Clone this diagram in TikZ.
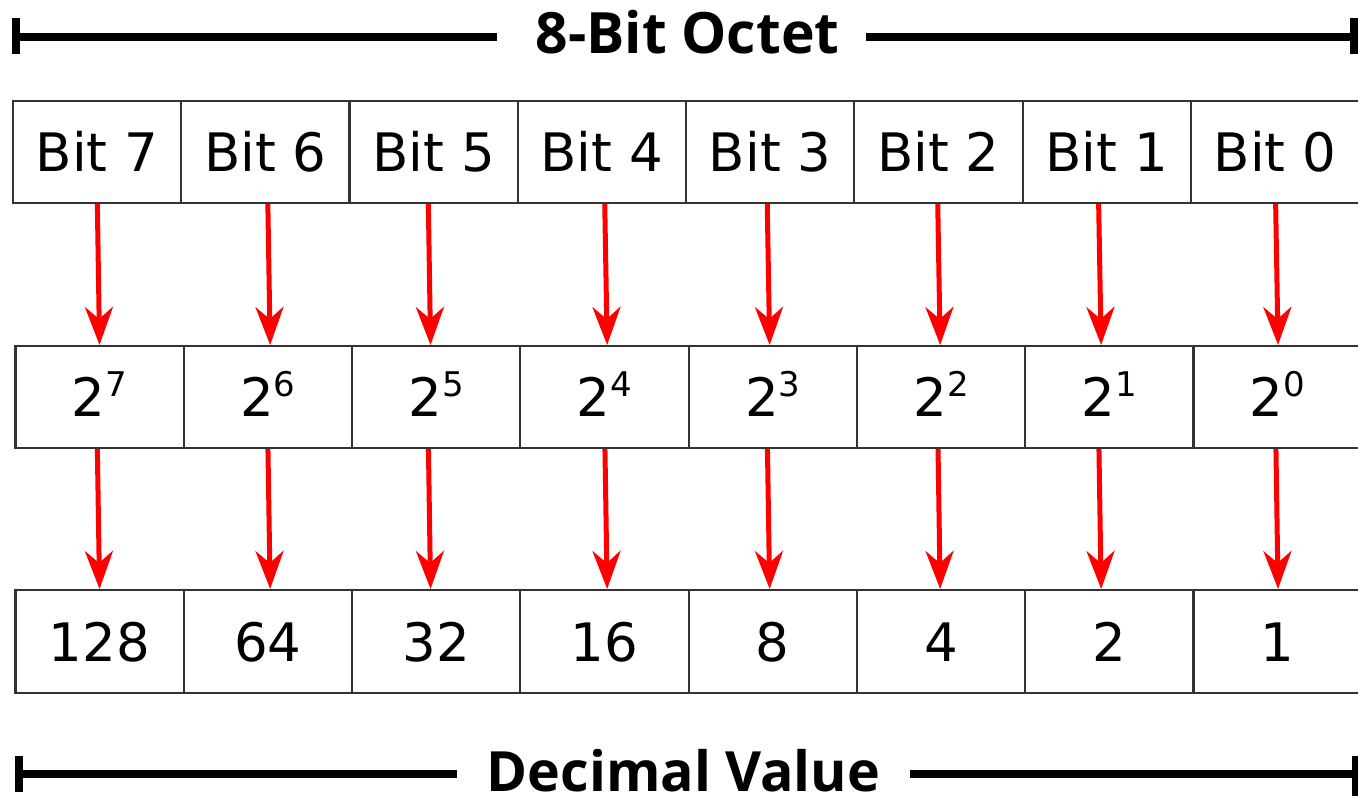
\documentclass[tikz,border=0pt]{standalone}
\usepackage{fontspec}
\setmainfont{DejaVu Sans}
\newfontfamily\titlefont{Open Sans}
\usetikzlibrary{arrows.meta}
\definecolor{boxgray}{HTML}{333333}
\newcommand\mypow[1]{2\raisebox{20pt}{\fontsize{34}{34}\selectfont #1}}
\begin{document}
\begin{tikzpicture}[x=1pt,y=-1pt,
  cell/.style={draw=boxgray, line width=2.2pt, minimum width=168.3pt, minimum height=102pt,
    inner sep=0pt, anchor=north west, font=\fontsize{53}{53}\selectfont,
    text height=39pt, text depth=0pt},
  arr/.style={draw=red, line width=5pt, -{Stealth[length=38pt,width=28pt,inset=12pt]}},
  bar/.style={line width=8pt},
  ttl/.style={anchor=base, inner sep=0pt, text depth=0pt, font=\titlefont\bfseries\fontsize{57}{57}\selectfont}]
\useasboundingbox (0,0) rectangle (1358,796);
% top bar
\coordinate (tl) at (16,37);
\coordinate (tlu) at (16,18);
\coordinate (tld) at (16,54);
\coordinate (tle) at (497,37);
\coordinate (trs) at (866,37);
\coordinate (tr) at (1354,37);
\coordinate (tru) at (1354,18);
\coordinate (trd) at (1354,54);
\draw[bar] (tl) -- (tle);
\draw[bar] (trs) -- (tr);
\draw[bar] (tlu) -- (tld);
\draw[bar] (tru) -- (trd);
\node[ttl] (title) at (687.5,53) {8-Bit Octet};
% rows
\foreach \i/\t in {0/Bit 7,1/Bit 6,2/Bit 5,3/Bit 4,4/Bit 3,5/Bit 2,6/Bit 1,7/Bit 0}
  \node[cell] (t\i) at ({11.7+\i*168.3},100) {\t};
\foreach \i/\t in {0/7,1/6,2/5,3/4,4/3,5/2,6/1,7/0}
  \node[cell] (m\i) at ({14.3+\i*168.3},345) {\mypow{\t}};
\foreach \i/\t in {0/128,1/64,2/32,3/16,4/8,5/4,6/2,7/1}
  \node[cell, minimum height=103pt] (b\i) at ({14.3+\i*168.3},589) {\t};
% arrows
\foreach \i/\s/\e in {0/0.4/0,1/2.6/2.3,2/-5.2/-5.6,3/2.9/2.7,4/-2.9/-3.1,5/-0.7/-0.9,6/-8.1/-8.2,7/0.6/0.4}
  \draw[arr] ([xshift=\s pt]t\i.south) -- ([xshift=\e pt]m\i.north);
\foreach \i/\s/\e in {0/-2.2/0,1/0.1/2.3,2/-7.7/-5.6,3/0.5/2.7,4/-5.3/-3.1,5/-3.0/-0.9,6/-10.4/-8.2,7/-1.7/0.4}
  \draw[arr] ([xshift=\s pt]m\i.south) -- ([xshift=\e pt]b\i.north);
% bottom bar
\coordinate (bl) at (18.5,774);
\coordinate (blu) at (18.5,756);
\coordinate (bld) at (18.5,792);
\coordinate (ble) at (457,774);
\coordinate (brs) at (910,774);
\coordinate (br) at (1356,774);
\coordinate (bru) at (1356,756);
\coordinate (brd) at (1356,796);
\draw[bar] (bl) -- (ble);
\draw[bar] (brs) -- (br);
\draw[bar] (blu) -- (bld);
\draw[bar] (bru) -- (brd);
\node[ttl, font=\titlefont\bfseries\fontsize{55.5}{55.5}\selectfont] (dec) at (683.5,791) {Decimal Value};
\end{tikzpicture}
\end{document}
